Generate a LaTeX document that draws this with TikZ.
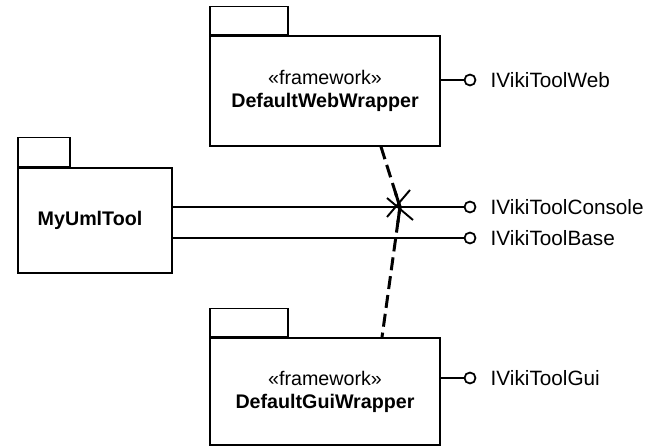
\documentclass[tikz,border=0pt]{standalone}
\usepackage{fontspec}
\setmainfont{Liberation Sans}
\usetikzlibrary{calc,positioning}
\tikzstyle{pkgbody}=[draw,line width=0.9pt,rectangle,inner sep=0pt,align=center,font=\fontsize{11.2}{13}\selectfont]
\tikzstyle{pkgtab}=[draw,line width=0.9pt,rectangle,inner sep=0pt,anchor=south west]
\tikzstyle{ball}=[draw,line width=1pt,circle,inner sep=0pt,minimum size=0.22cm,fill=white]
\tikzstyle{iflabel}=[inner sep=0pt,font=\fontsize{11.8}{14}\selectfont]
\tikzstyle{wire}=[line width=1pt]
\tikzstyle{dependency}=[line width=1.7pt,dash pattern=on 0.26cm off 0.12cm]
\newcommand{\drawtab}[3]{
  % tab on top of a package body
  \node[pkgtab,minimum width=#2,minimum height=#3] (#1tab) at (#1.north west) {};
}
\newcommand{\lollipop}[3]{
  \node[ball] (#1) at #2 {};
  \node[iflabel,right=0.28cm of #1] (#1label) {#3};
}

\begin{document}
\begin{tikzpicture}[x=0.02cm,y=-0.02cm]
	\useasboundingbox (0,0) rectangle (657,446);
	% packages
	\node[pkgbody,minimum width=4.6cm,minimum height=2.2cm] (web) at (325,91) {\raisebox{-2pt}{«framework»}\\\raisebox{-2pt}{\textbf{DefaultWebWrapper}}};
	\drawtab{web}{1.56cm}{0.56cm}
	\node[pkgbody,minimum width=4.6cm,minimum height=2.14cm] (gui) at (325,391.5) {«framework»\\\textbf{DefaultGuiWrapper}};
	\drawtab{gui}{1.56cm}{0.56cm}
	\node[pkgbody,minimum width=3.08cm,minimum height=2.1cm] (umltool) at (95,220.5) {\textbf{MyUmlTool}\hspace*{0.2cm}};
	\drawtab{umltool}{1.04cm}{0.58cm}
	% provided interfaces
	\lollipop{iweb}{(470,80)}{IVikiToolWeb}
	\lollipop{iconsole}{(470,207)}{IVikiToolConsole}
	\lollipop{ibase}{(470,238)}{IVikiToolBase}
	\lollipop{igui}{(470,378)}{IVikiToolGui}
	\draw[wire] (web.east |- iweb) -- (iweb);
	\draw[wire] (gui.east |- igui) -- (igui);
	\draw[wire] (umltool.east |- iconsole) -- (iconsole);
	\draw[wire] (umltool.east |- ibase) -- (ibase);
	% cut dependency
	\coordinate (cut) at (400,207);
	\coordinate (dtop) at ($(web.south)+(56,0)$);
	\coordinate (dbot) at ($(gui.north)+(57,0)$);
	\draw[dependency] (dtop) -- (cut) -- (dbot);
	\draw[line width=1.7pt] ($(cut)!0.25!(dtop)$) -- (cut) -- ($(cut)!0.12!(dbot)$);
	\draw[line width=1.1pt] ($(cut)+(-13,-9)$) -- ($(cut)+(13,13)$);
	\draw[line width=1.1pt] ($(cut)+(10,-17)$) -- ($(cut)+(-13,10)$);
\end{tikzpicture}
\end{document}
